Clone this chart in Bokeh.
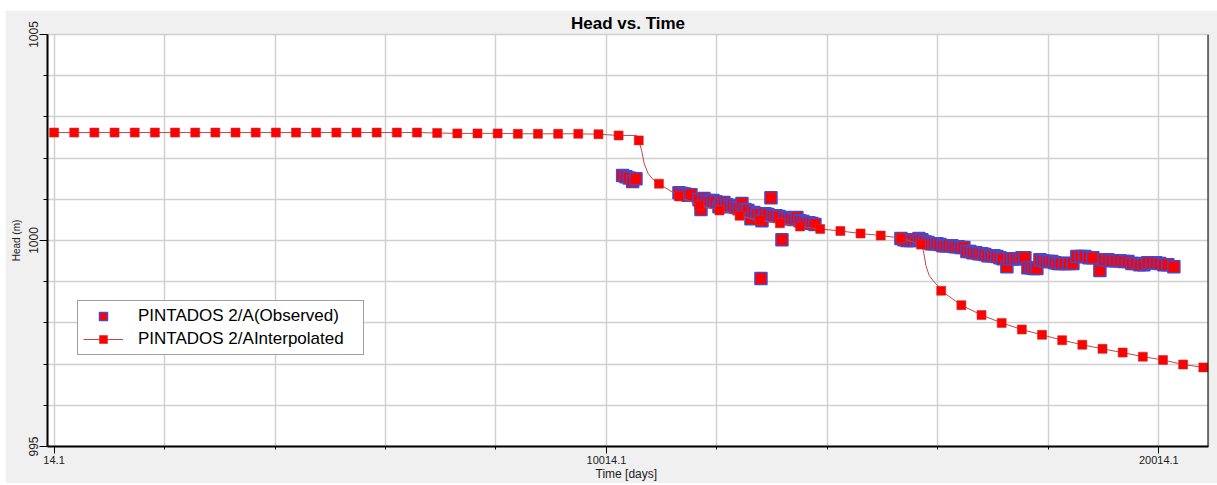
from bokeh.plotting import figure
from bokeh.models import Range1d, FixedTicker, PrintfTickFormatter, Legend, LegendItem, Span
from bokeh.embed import file_html
from bokeh.resources import INLINE

FONT = "Liberation Sans"

# Interpolated series (yearly markers)
interp_days = [14.1, 379.1, 744.1, 1109.1, 1474.1, 1839.1, 2204.1, 2569.1, 2934.1, 3299.1,
               3664.1, 4029.1, 4394.1, 4759.1, 5124.1, 5489.1, 5854.1, 6219.1, 6584.1, 6949.1,
               7314.1, 7679.1, 8044.1, 8409.1, 8774.1, 9139.1, 9504.1, 9869.1, 10234.1, 10599.1,
               10964.1, 11329.1, 11694.1, 12059.1, 12424.1, 12789.1, 13154.1, 13519.1, 13884.1, 14249.1,
               14614.1, 14979.1, 15344.1, 15709.1, 16074.1, 16439.1, 16804.1, 17169.1, 17534.1, 17899.1,
               18264.1, 18629.1, 18994.1, 19359.1, 19724.1, 20089.1, 20454.1, 20819.1]
interp_head = [1002.62, 1002.62, 1002.62, 1002.62, 1002.62, 1002.62, 1002.62, 1002.62, 1002.62, 1002.62,
               1002.62, 1002.62, 1002.62, 1002.62, 1002.62, 1002.62, 1002.62, 1002.62, 1002.62, 1002.61,
               1002.60, 1002.60, 1002.60, 1002.59, 1002.59, 1002.59, 1002.59, 1002.58, 1002.55, 1002.43,
               1001.38, 1001.07, 1000.85, 1000.73, 1000.60, 1000.49, 1000.42, 1000.34, 1000.28, 1000.23,
               1000.17, 1000.12, 1000.06, 999.90, 998.78, 998.43, 998.19, 998.00, 997.84, 997.71,
               997.58, 997.47, 997.37, 997.28, 997.18, 997.10, 996.99, 996.92]

# Extra points on the interpolated curve (line only)
curve_days = [10560, 10652, 10698, 10771, 10851, 15752, 15797, 15857, 15942, 16014]
curve_head = [1002.55, 1002.18, 1001.86, 1001.62, 1001.49, 999.75, 999.39, 999.15, 999.00, 998.90]

# Observed series
obs_days = [10307, 10367, 10427, 10488, 10548,
            11327, 11381, 11435, 11489, 11544,
            11689, 11725, 11779, 11833, 11888, 11942, 11996, 12051, 12087, 12141,
            12195, 12250, 12304, 12358, 12413, 12467, 12521, 12575, 12630, 12684,
            12738, 12793, 12811, 12829, 12883, 12937, 12992, 13028, 13082, 13137,
            13191, 13245, 13299, 13354, 13408, 13462, 13517, 13571, 13625, 13680,
            13734, 13788,
            15345, 15399, 15453, 15508, 15562, 15616, 15671, 15725, 15779, 15834,
            15888, 15942, 15996, 16051, 16105, 16159, 16214, 16268, 16322, 16377,
            16431, 16485, 16539, 16594, 16648, 16702, 16757, 16811, 16865, 16920,
            16974, 17028, 17082, 17137, 17191, 17263, 17318, 17372, 17426, 17481,
            17535, 17589, 17644, 17698, 17752, 17806, 17861, 17915, 17969, 18024,
            18078, 18132, 18187, 18241, 18313, 18386, 18458, 18530, 18603, 18675,
            18748, 18820, 18947, 19019, 19092, 19164, 19236, 19309, 19381, 19454,
            19526, 19598, 19671, 19743, 19815, 19888, 19960, 20033, 20105, 20177,
            20286]
obs_head = [1001.58, 1001.55, 1001.52, 1001.43, 1001.50,
            1001.16, 1001.14, 1001.13, 1001.10, 1001.11,
            1000.99, 1000.75, 1001.02, 1000.97, 1000.94, 1000.97, 1000.94, 1000.82, 1000.90, 1000.92,
            1000.87, 1000.82, 1000.85, 1000.80, 1000.77, 1000.90, 1000.75, 1000.73, 1000.53, 1000.68,
            1000.65, 1000.63, 999.08, 1000.48, 1000.65, 1000.63, 1001.04, 1000.60, 1000.60, 1000.58,
            1000.02, 1000.56, 1000.53, 1000.53, 1000.51, 1000.56, 1000.48, 1000.46, 1000.43, 1000.43,
            1000.41, 1000.39,
            1000.05, 1000.02, 1000.00, 1000.00, 1000.00, 1000.02, 1000.05, 1000.02, 999.97, 999.95,
            999.92, 999.92, 999.92, 999.90, 999.87, 999.87, 999.87, 999.87, 999.85, 999.85,
            999.83, 999.83, 999.73, 999.73, 999.70, 999.70, 999.68, 999.68, 999.66, 999.63,
            999.63, 999.63, 999.61, 999.58, 999.56, 999.36, 999.56, 999.56, 999.56, 999.56,
            999.58, 999.58, 999.34, 999.34, 999.32, 999.32, 999.53, 999.51, 999.49, 999.49,
            999.49, 999.46, 999.44, 999.44, 999.44, 999.44, 999.44, 999.61, 999.61, 999.61,
            999.58, 999.58, 999.27, 999.53, 999.53, 999.51, 999.51, 999.51, 999.49, 999.49,
            999.44, 999.44, 999.41, 999.41, 999.46, 999.46, 999.46, 999.44, 999.41, 999.41,
            999.36]

x_major_ticks = [14.1, 10014.1, 20014.1]
x_minor_ticks = [2014.1, 4014.1, 6014.1, 8014.1, 12014.1, 14014.1, 16014.1, 18014.1]
y_major_ticks = [995, 1000, 1005]
y_minor_ticks = [996, 997, 998, 999, 1001, 1002, 1003, 1004]

series_labels = ["PINTADOS 2/A(Observed)", "PINTADOS 2/AInterpolated"]

X_START, X_END = -105, 20913

p = figure(width=1212, height=473, output_backend="svg", toolbar_location=None,
           x_range=Range1d(X_START, X_END), y_range=Range1d(995, 1005),
           title="Head vs. Time",
           min_border_left=42, min_border_right=9, min_border_top=24, min_border_bottom=37)
p.margin = (10, 0, 0, 5)

p.background_fill_color = "white"
p.border_fill_color = "#f0f0f0"
p.outline_line_color = "#cfcfcf"
p.outline_line_width = 1.5

p.title.text_font = FONT
p.title.text_font_size = "17px"
p.title.text_font_style = "bold"
p.title.text_color = "black"
p.title.align = "center"
p.title.standoff = 3

for ax in (p.xaxis[0], p.yaxis[0]):
    ax.axis_line_color = "black"
    ax.axis_line_width = 2
    ax.major_tick_line_color = "black"
    ax.minor_tick_line_color = "black"
    ax.major_tick_in = 0
    ax.minor_tick_in = 0
    ax.major_label_text_font = FONT
    ax.major_label_text_color = "#202020"
    ax.axis_label_text_font = FONT
    ax.axis_label_text_font_style = "normal"
    ax.axis_label_text_color = "#202020"

xa = p.xaxis[0]
xa.ticker = FixedTicker(ticks=x_major_ticks, minor_ticks=x_minor_ticks)
xa.formatter = PrintfTickFormatter(format="%.1f")
xa.major_tick_out = 7
xa.minor_tick_out = 3
xa.major_label_standoff = 2
xa.major_label_text_font_size = "11px"
xa.axis_label = "Time  [days]"
xa.axis_label_text_font_size = "12px"
xa.axis_label_standoff = 0

ya = p.yaxis[0]
ya.ticker = FixedTicker(ticks=y_major_ticks, minor_ticks=y_minor_ticks)
ya.formatter = PrintfTickFormatter(format="%d")
ya.major_tick_out = 8
ya.minor_tick_out = 4
ya.major_label_standoff = 2
ya.major_label_orientation = "vertical"
ya.major_label_text_font_size = "12px"
ya.axis_label = "Head (m)"
ya.axis_label_text_font_size = "10px"
ya.axis_label_standoff = 4

for g in (p.xgrid[0], p.ygrid[0]):
    g.grid_line_color = "#d0d0d0"
    g.grid_line_width = 1.5
    g.minor_grid_line_color = "#d0d0d0"
    g.minor_grid_line_width = 1.5

p.add_layout(Span(location=X_END, dimension="height", line_color="black", line_width=2))

obs_r = p.scatter(obs_days, obs_head, marker="square", size=12,
                  fill_color="#ff0000", line_color="#4848c8", line_width=1.5)

pts = sorted(zip(interp_days + curve_days, interp_head + curve_head))
line_r = p.line([a for a, b in pts], [b for a, b in pts], line_color="#c04848", line_width=1)
int_r = p.scatter(interp_days, interp_head, marker="square", size=9,
                  fill_color="#ff0000", line_color="#c83030", line_width=0.6)

legend = Legend(items=[LegendItem(label=series_labels[0], renderers=[obs_r]),
                       LegendItem(label=series_labels[1], renderers=[line_r, int_r])],
                location=(30, 91))
legend.label_text_font = FONT
legend.label_text_font_size = "17px"
legend.label_text_color = "black"
legend.border_line_color = "#404040"
legend.border_line_width = 1
legend.background_fill_color = "white"
legend.background_fill_alpha = 1
legend.padding = 5
legend.spacing = 3
legend.glyph_width = 40
legend.glyph_height = 20
legend.label_height = 20
legend.label_standoff = 15
legend.label_width = 220
legend.margin = 0
p.add_layout(legend)

open("out.html", "w").write(file_html(p, INLINE))
